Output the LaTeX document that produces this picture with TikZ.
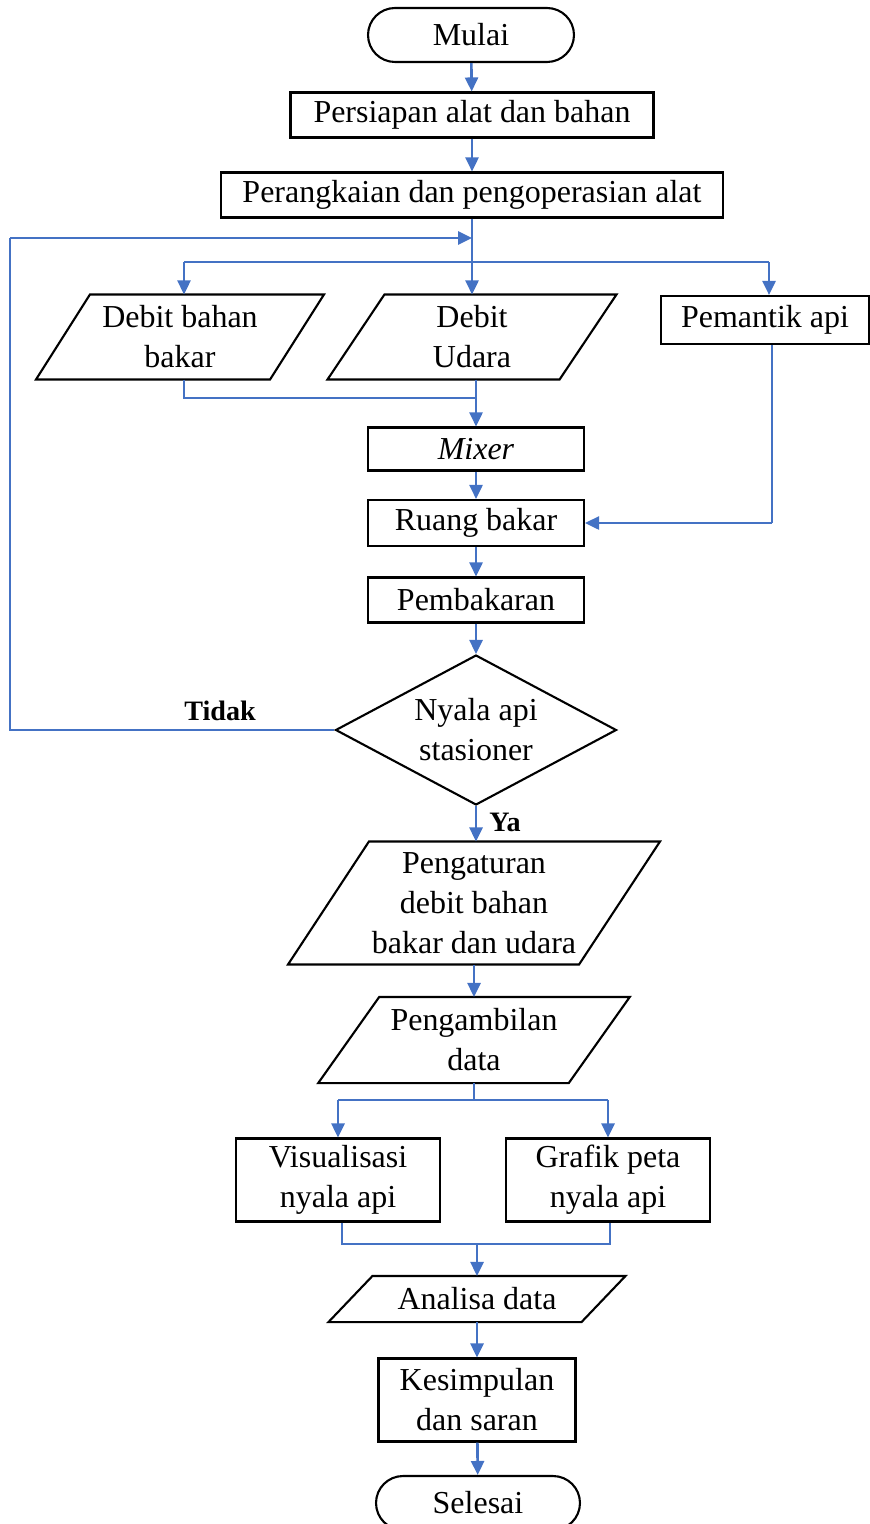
\documentclass[tikz,border=0pt]{standalone}
\usepackage{fontspec}
\setmainfont{Liberation Serif}
\usetikzlibrary{arrows.meta,shapes.geometric}
\definecolor{garisbiru}{HTML}{4472C4}
\tikzset{
  kotak/.style={draw, line width=1.2pt, align=center, inner sep=0pt,
    minimum height=0.9cm, font=\fontsize{18.2}{22.8}\selectfont},
  ujung/.style={kotak, rounded corners=0.54cm, minimum height=1.08cm},
  jajar/.style={kotak, draw=none},
  label/.style={font=\fontsize{16}{19}\selectfont\bfseries, inner sep=0pt},
  panah/.style={garisbiru, line width=1.5pt, -{Triangle[length=0.28cm,width=0.26cm]}},
  tipis/.style={garisbiru, line width=0.7pt},
}
\begin{document}
\begin{tikzpicture}[x=0.02cm,y=-0.02cm]
\useasboundingbox (0,0) rectangle (869,1524);
% kotak-kotak alur
\node[ujung, minimum width=4.12cm] (mulai) at (471,35) {Mulai};
\node[kotak, minimum width=7.26cm] (siap) at (472,115) {Persiapan alat dan bahan};
\node[kotak, minimum width=10.04cm] (rangkai) at (472,195) {Perangkaian dan pengoperasian alat};
\node[jajar, minimum width=4.64cm, minimum height=1.66cm] (dbb) at (180,337) {Debit bahan\\bakar};
\node[jajar, minimum width=4.6cm, minimum height=1.66cm] (du) at (472,337) {Debit\\Udara};
\node[kotak, minimum width=4.16cm, minimum height=0.96cm] (pemantik) at (765,320) {Pemantik api};
\node[kotak, minimum width=4.32cm, minimum height=0.86cm] (mixer) at (476,449) {\textit{Mixer}};
\node[kotak, minimum width=4.32cm, minimum height=0.92cm] (ruang) at (476,523) {Ruang bakar};
\node[kotak, minimum width=4.32cm] (bakar) at (476,600) {Pembakaran};
\node[kotak, diamond, aspect=1.9, minimum width=5.62cm, minimum height=3cm] (kep) at (476,730) {Nyala api\\stasioner};
\node[jajar, minimum width=5.78cm, minimum height=2.42cm] (atur) at (474,903) {Pengaturan\\debit bahan\\bakar dan udara};
\node[jajar, minimum width=4.97cm, minimum height=1.68cm] (ambil) at (474,1040) {Pengambilan\\data};
\node[kotak, minimum width=4.08cm, minimum height=1.66cm] (vis) at (338,1180) {Visualisasi\\nyala api};
\node[kotak, minimum width=4.08cm, minimum height=1.66cm] (graf) at (608,1180) {Grafik peta\\nyala api};
\node[jajar, minimum width=5.02cm, minimum height=0.88cm] (analisa) at (477,1299) {Analisa data};
\node[kotak, minimum width=3.94cm, minimum height=1.66cm] (simpul) at (477,1400) {Kesimpulan\\dan saran};
\node[ujung, minimum width=4.08cm] (selesai) at (478,1503) {Selesai};
% jajaran genjang
\foreach \n/\s in {dbb/27, du/28.5, atur/40.5, ambil/30.5, analisa/22}
\draw[line width=1.2pt] ([xshift=\s*0.02cm]\n.north west) -- ([xshift=\s*0.02cm]\n.north east)
  -- ([xshift=-\s*0.02cm]\n.south east) -- ([xshift=-\s*0.02cm]\n.south west) -- cycle;
\node[label] (tidak) at (220,711) {Tidak};
\node[label] (ya) at (505,822) {Ya};
% panah
\draw[panah] (mulai) -- (siap);
\draw[panah] (siap) -- (rangkai);
\draw[panah] (rangkai.south) -- (du.north);
\coordinate (cabang) at (472,262);
\draw[tipis] ([xshift=0.08cm]dbb.north |- cabang) -- ([xshift=0.08cm]pemantik.north |- cabang);
\draw[panah] ([xshift=0.08cm]dbb.north |- cabang) -- ([xshift=0.08cm]dbb.north);
\draw[panah] ([xshift=0.08cm]pemantik.north |- cabang) -- ([xshift=0.08cm]pemantik.north);
\coordinate (kiri) at (10,238);
\draw[tipis] (kep.west) -| (kiri);
\draw[panah] (kiri) -- (rangkai.south |- kiri);
\coordinate (gabung) at (476,398);
\draw[tipis] ([xshift=0.08cm]dbb.south) |- (gabung);
\draw[panah] (du.south -| mixer.north) -- (mixer.north);
\draw[panah] (mixer) -- (ruang);
\draw[tipis] ([xshift=0.14cm]pemantik.south) -- ([xshift=0.14cm]pemantik.south |- ruang.east);
\draw[panah] ([xshift=0.14cm]pemantik.south |- ruang.east) -- (ruang.east);
\draw[panah] (ruang) -- (bakar);
\draw[panah] (bakar.south) -- (kep.north);
\draw[panah] (kep.south) -- (kep.south |- atur.north);
\draw[panah] (atur) -- (ambil);
\coordinate (pisah) at (474,1100);
\draw[tipis] (ambil.south) -- (pisah);
\draw[tipis] (vis.north |- pisah) -- (graf.north |- pisah);
\draw[panah] (vis.north |- pisah) -- (vis.north);
\draw[panah] (graf.north |- pisah) -- (graf.north);
\coordinate (satu) at (477,1244);
\draw[tipis] ([xshift=0.08cm]vis.south) |- (satu) -| ([xshift=0.04cm]graf.south);
\draw[panah] (satu) -- (analisa.north);
\draw[panah] (analisa) -- (simpul);
\draw[panah] (simpul) -- (selesai);
\end{tikzpicture}
\end{document}
